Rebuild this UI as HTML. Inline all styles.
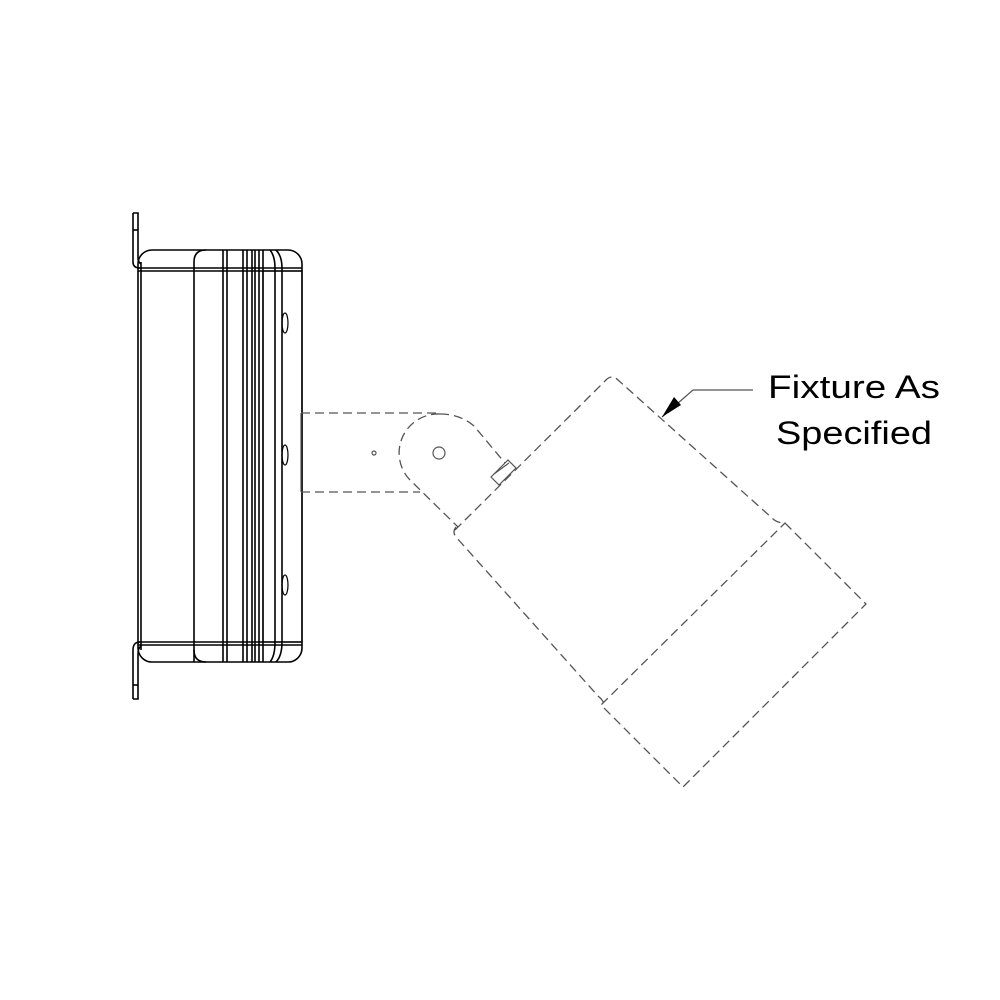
<!DOCTYPE html>
<html><head><meta charset="utf-8"><style>html,body{margin:0;padding:0;background:#fff}svg{display:block}</style></head>
<body>
<svg width="1000" height="1000" viewBox="0 0 1000 1000" xmlns="http://www.w3.org/2000/svg">
<rect width="1000" height="1000" fill="#fff"/>
<g fill="none" stroke="#000" stroke-width="1.6">
  <path d="M133,213 H138 V258 Q138,262 141,264 M133,213 V262 Q133,268 140,268"/>
  <path d="M133,699 H138 V654 Q138,648 141,646 M133,699 V650 Q133,642 140,642"/>
  <line x1="133" y1="230" x2="138" y2="230"/>
  <line x1="133" y1="685" x2="138" y2="685"/>
  <rect x="138" y="250" width="164" height="412" rx="14"/>
  <line x1="138" y1="268" x2="302" y2="268"/>
  <line x1="138" y1="271" x2="302" y2="271"/>
  <line x1="138" y1="642" x2="302" y2="642"/>
  <line x1="138" y1="645" x2="302" y2="645"/>
  <line x1="141" y1="262" x2="141" y2="650"/>
  <path d="M194,662 V262 Q194,250 206,250"/>
  <path d="M194,650 Q194,662 206,662"/>
  <line x1="223" y1="250" x2="223" y2="662"/>
  <line x1="227" y1="250" x2="227" y2="662"/>
  <line x1="243" y1="250" x2="243" y2="662"/>
  <line x1="247" y1="250" x2="247" y2="662"/>
  <line x1="252" y1="250" x2="252" y2="662"/>
  <line x1="255" y1="250" x2="255" y2="662"/>
  <line x1="259" y1="250" x2="259" y2="662"/>
  <line x1="263" y1="250" x2="263" y2="662"/>
  <path d="M270,250 Q275,256 275,268 V642 Q275,656 270,662"/>
  <path d="M276,250 Q282,256 282,268 V642 Q282,656 276,662"/>
  <rect x="263" y="271" width="39" height="371" stroke-width="1.2"/>
  <ellipse cx="285" cy="323" rx="3" ry="10" stroke-width="1.2"/>
  <ellipse cx="285" cy="455" rx="3" ry="10" stroke-width="1.2"/>
  <ellipse cx="285" cy="585" rx="3" ry="10" stroke-width="1.2"/>
</g>
<g fill="none" stroke="#555" stroke-width="1.3" stroke-dasharray="9,5">
  <line x1="301" y1="413" x2="440" y2="413"/>
  <line x1="301" y1="492" x2="420" y2="492"/>
  <path d="M440,414 Q460,414 474,426 L505,463"/>
  <path d="M440,414 A39,39 0 0 0 410,480 L458,527"/>
  <path d="M456,527 Q452,532 456,537 L598,696 Q603,700 604,704"/>
  <path d="M455,530 L606,380 Q612,374 618,380 L772,518 Q777,523 784,523"/>
  <path d="M785,523 L866,604 L683,787 L601,705 Z"/>
</g>
<g fill="none" stroke="#555" stroke-width="1.2">
  <circle cx="439" cy="453" r="6"/>
  <circle cx="374" cy="453" r="2"/>
  <path d="M491,477 L508,460 L516,468 L499,485 Z"/>
  <path d="M494,474 L509,463"/>
  <line x1="301" y1="413" x2="301" y2="492"/>
</g>
<polyline points="662,417 693,390 753,390" fill="none" stroke="#555" stroke-width="1.2"/>
<polygon points="662,417 674,397 681,405" fill="#000"/>
<g font-family="Liberation Sans, sans-serif" font-size="32" fill="#000">
  <text x="768" y="398" textLength="172" lengthAdjust="spacingAndGlyphs">Fixture As</text>
  <text x="776" y="444" textLength="156" lengthAdjust="spacingAndGlyphs">Specified</text>
</g>
</svg>
</body></html>
